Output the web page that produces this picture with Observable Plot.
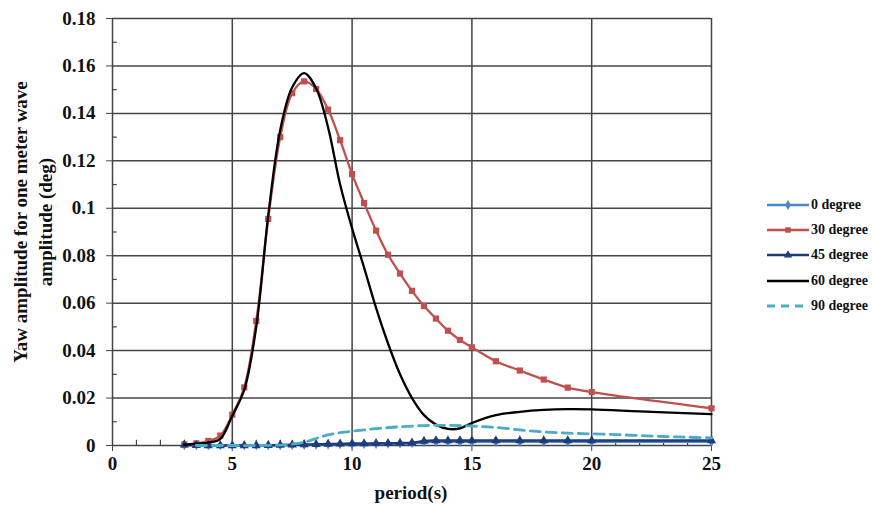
<!DOCTYPE html>
<html>
<head>
<meta charset="utf-8">
<script src="https://cdn.jsdelivr.net/npm/d3@7"></script>
<script src="https://cdn.jsdelivr.net/npm/@observablehq/plot@0.6"></script>
<style>
  body { margin: 0; background: #fff; }
  #wrap { position: relative; width: 873px; height: 505px; overflow: hidden;
          font-family: "Liberation Serif", "Times New Roman", serif; font-weight: bold; color: #111; }
  #ytitle { position: absolute; left: 33px; top: 222px; transform: translate(-50%, -50%) rotate(-90deg);
            white-space: nowrap; text-align: center; font-size: 19px; line-height: 25px; }
  #xtitle { position: absolute; left: 411px; top: 493px; transform: translate(-50%, -50%);
            font-size: 19px; white-space: nowrap; }
  #legend { position: absolute; left: 766px; top: 192px; font-size: 14px; }
  .row { display: flex; align-items: center; height: 25.3px; }
  .row svg { margin-right: 1px; }
</style>
</head>
<body>
<div id="wrap">
  <div id="ytitle">Yaw amplitude for one meter wave<br>amplitude (deg)</div>
  <div id="xtitle">period(s)</div>
  <div id="legend"></div>
</div>
<script>
// ---- tick labels ----
const xTicks = [0, 5, 10, 15, 20, 25];
const xTickLabels = ["0", "5", "10", "15", "20", "25"];
const yTicks = [0, 0.02, 0.04, 0.06, 0.08, 0.1, 0.12, 0.14, 0.16, 0.18];
const yTickLabels = ["0", "0.02", "0.04", "0.06", "0.08", "0.1", "0.12", "0.14", "0.16", "0.18"];
const yMinor = [0.01, 0.03, 0.05, 0.07, 0.09, 0.11, 0.13, 0.15, 0.17];
const xMinor = [1, 2, 3, 4, 6, 7, 8, 9, 11, 12, 13, 14, 16, 17, 18, 19, 21, 22, 23, 24];

// ---- series ----
const seriesNames = ["0 degree", "30 degree", "45 degree", "60 degree", "90 degree"];
const periods = [3, 3.5, 4, 4.5, 5, 5.5, 6, 6.5, 7, 7.5, 8, 8.5, 9, 9.5, 10, 10.5, 11, 11.5, 12, 12.5,
                 13, 13.5, 14, 14.5, 15, 16, 17, 18, 19, 20, 25];
const deg0 = [0.0001, 0.0001, 0.0001, 0.0001, 0.0001, 0.0001, 0.0001, 0.0001, 0.0001, 0.0002, 0.0002, 0.0003,
              0.0004, 0.0005, 0.0005, 0.0006, 0.0006, 0.0007, 0.0008, 0.0009, 0.0014, 0.0015, 0.0015, 0.0015,
              0.0015, 0.0015, 0.0015, 0.0015, 0.0015, 0.0015, 0.0015];
const deg30 = [0.0004, 0.0009, 0.0019, 0.0042, 0.013, 0.0245, 0.0525, 0.0955, 0.130, 0.1485, 0.1535, 0.1503,
               0.1416, 0.1287, 0.1144, 0.1022, 0.0906, 0.0804, 0.0725, 0.0652, 0.0588, 0.0535, 0.0484, 0.0445,
               0.0414, 0.0355, 0.0316, 0.0278, 0.0244, 0.0225, 0.0157];
const deg45 = [0.0003, 0.0001, 0, 0, 0, 0, 0, 0.0001, 0.0002, 0.0003, 0.0004, 0.0005,
               0.0006, 0.0007, 0.0008, 0.0008, 0.0009, 0.0009, 0.001, 0.0011, 0.0019, 0.0021, 0.0021, 0.0021,
               0.0021, 0.0021, 0.0021, 0.0021, 0.0021, 0.0021, 0.0021];
const periods60 = [3, 3.5, 4, 4.5, 5, 5.5, 6, 6.5, 7, 7.5, 8, 8.5, 9, 9.5, 10, 10.5, 11, 11.5, 12, 12.5,
                   13, 13.5, 14, 14.5, 15, 16, 17, 18, 19, 20, 22, 25];
const deg60 = [0.0003, 0.0008, 0.0012, 0.0028, 0.0125, 0.0235, 0.050, 0.097, 0.133, 0.151, 0.157, 0.1505,
               0.134, 0.110, 0.0915, 0.075, 0.058, 0.043, 0.030, 0.020, 0.0128, 0.0088, 0.0070, 0.0072,
               0.0095, 0.0128, 0.0142, 0.0150, 0.0153, 0.0152, 0.0144, 0.0132];
const periods90 = [3.5, 4, 5, 6, 7, 7.5, 8, 9, 10, 11, 12, 13, 14, 15, 16, 17, 18, 19, 20, 21, 22, 23, 24, 25];
const deg90 = [0, 0, 0, 0, 0.0002, 0.0006, 0.0014, 0.0045, 0.006, 0.0071, 0.0079, 0.0084, 0.0085, 0.0082,
               0.0076, 0.0066, 0.0057, 0.0052, 0.0049, 0.0046, 0.0042, 0.0038, 0.0035, 0.0032];

const colors = ["#4a86c8", "#c0504d", "#1f3b7a", "#000000", "#4bacc6"];

const toRows = (xs, ys) => xs.map((x, i) => ({x, y: ys[i]}));
const d0 = toRows(periods, deg0);
const d30 = toRows(periods, deg30);
const d45 = toRows(periods, deg45);
const d60 = toRows(periods60, deg60);
const d90 = toRows(periods90, deg90);

const gridColor = "#444";

const chart = Plot.plot({
  width: 873,
  height: 505,
  marginLeft: 112,
  marginRight: 162,
  marginTop: 18,
  marginBottom: 60,
  x: {domain: [0, 25]},
  y: {domain: [0, 0.18]},
  style: {fontFamily: "'Liberation Serif', 'Times New Roman', serif", fontWeight: "bold", fontSize: "19px",
          color: "#111", background: "transparent"},
  marks: [
    Plot.gridY({ticks: yTicks.slice(1), stroke: gridColor, strokeOpacity: 1, strokeWidth: 1.5}),
    Plot.gridX({ticks: xTicks.slice(1), stroke: gridColor, strokeOpacity: 1, strokeWidth: 1.5}),
    Plot.ruleY(yMinor, {y: d => d, x1: 0, x2: 0.2, stroke: gridColor, strokeWidth: 1.2}),
    Plot.ruleX(xMinor, {x: d => d, y1: 0, y2: 0.0022, stroke: gridColor, strokeWidth: 1.2}),
    Plot.ruleX([0], {stroke: gridColor, strokeWidth: 1.5}),
    Plot.ruleY([0], {stroke: gridColor, strokeWidth: 1.5}),
    Plot.axisY({ticks: yTicks, tickSize: 6, tickPadding: 11, label: null, stroke: gridColor,
                tickFormat: d => yTickLabels[yTicks.indexOf(d)], fontSize: 19}),
    Plot.axisX({ticks: xTicks, tickSize: 6, tickPadding: 5, label: null, stroke: gridColor,
                tickFormat: d => xTickLabels[xTicks.indexOf(d)], fontSize: 19}),
    // 0 degree
    Plot.line(d0, {x: "x", y: "y", stroke: colors[0], strokeWidth: 2.2, curve: "catmull-rom"}),
    Plot.dot(d0, {x: "x", y: "y", symbol: "diamond", r: 3, fill: colors[0], stroke: "none"}),
    // 30 degree
    Plot.line(d30, {x: "x", y: "y", stroke: colors[1], strokeWidth: 2.3, curve: "catmull-rom"}),
    Plot.dot(d30, {x: "x", y: "y", symbol: "square", r: 3.5, fill: colors[1], stroke: "none"}),
    // 45 degree
    Plot.line(d45, {x: "x", y: "y", stroke: colors[2], strokeWidth: 2.5, curve: "catmull-rom"}),
    Plot.dot(d45, {x: "x", y: "y", symbol: "triangle", r: 3.4, fill: colors[2], stroke: "none"}),
    // 60 degree
    Plot.line(d60, {x: "x", y: "y", stroke: colors[3], strokeWidth: 2.3, curve: "catmull-rom"}),
    // 90 degree
    Plot.line(d90, {x: "x", y: "y", stroke: colors[4], strokeWidth: 2.8, strokeDasharray: "10,6", curve: "catmull-rom"})
  ]
});
document.getElementById("wrap").prepend(chart);
chart.style.position = "absolute";
chart.style.left = "0px";
chart.style.top = "0px";

// ---- legend ----
const legend = document.getElementById("legend");
const symbols = ["diamond", "square", "triangle", null, null];
seriesNames.forEach((name, i) => {
  const row = document.createElement("div");
  row.className = "row";
  const ns = "http://www.w3.org/2000/svg";
  const svg = document.createElementNS(ns, "svg");
  svg.setAttribute("width", 44);
  svg.setAttribute("height", 12);
  const ln = document.createElementNS(ns, "line");
  ln.setAttribute("x1", 1); ln.setAttribute("x2", 43);
  ln.setAttribute("y1", 6); ln.setAttribute("y2", 6);
  ln.setAttribute("stroke", colors[i]);
  ln.setAttribute("stroke-width", i === 4 ? 2.8 : 2.6);
  if (i === 4) ln.setAttribute("stroke-dasharray", "8,6");
  svg.appendChild(ln);
  if (symbols[i]) {
    const p = document.createElementNS(ns, "path");
    p.setAttribute("d", d3.symbol(symbols[i] === "diamond" ? d3.symbolDiamond :
                                  symbols[i] === "square" ? d3.symbolSquare : d3.symbolTriangle, 30)());
    p.setAttribute("transform", "translate(22,6)");
    p.setAttribute("fill", colors[i]);
    svg.appendChild(p);
  }
  row.appendChild(svg);
  const t = document.createElement("span");
  t.textContent = name;
  row.appendChild(t);
  legend.appendChild(row);
});
</script>
</body>
</html>
